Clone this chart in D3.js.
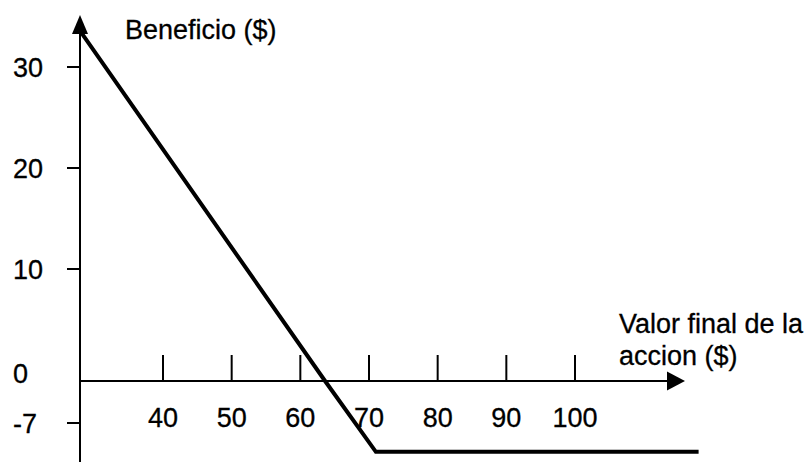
<!DOCTYPE html>
<html lang="es">
<head>
    <meta charset="UTF-8" />
    <title>Beneficio de una opcion de venta</title>
    <script src="https://d3js.org/d3.v7.min.js"></script>
    <style>
        html, body { margin: 0; padding: 0; background: #fff; }
        svg text {
            font-family: "Liberation Sans", Arial, sans-serif;
            font-size: 27px;
            fill: #000;
            stroke: #000;
            stroke-width: 0.3px;
        }
    </style>
</head>
<body>
    <div id="viz"></div>
    <script>
        // --- Data ---
        const xTicks = [40, 50, 60, 70, 80, 90, 100];
        const yTicks = [30, 20, 10, 0, -7];
        // payoff curve (precio final, beneficio)
        const payoffX = [28.1, 63.6, 71, 118];
        const payoffY = [33.4, 0, -11.8, -11.8];

        const width = 812, height = 462;
        const originX = 80;      // vertical axis position
        const xAxisEnd = 685;    // arrow tip of horizontal axis
        const yAxisTop = 15;     // arrow tip of vertical axis

        const svg = d3.select("#viz").append("svg")
            .attr("width", width)
            .attr("height", height);

        const x = d3.scaleLinear().domain([40, 100]).range([163, 575]);
        // the figure is hand drawn, so the vertical scale is piecewise
        const y = d3.scaleLinear()
            .domain([-7, 0, 10, 20, 30])
            .range([423, 381, 269, 168, 67]);

        const axes = svg.append("g").attr("stroke", "#000").attr("stroke-width", 2);

        // vertical axis + arrow
        axes.append("line")
            .attr("x1", originX).attr("x2", originX)
            .attr("y1", yAxisTop + 10).attr("y2", height);
        svg.append("path")
            .attr("d", `M${originX},${yAxisTop} L${originX - 8},${yAxisTop + 19} L${originX + 8},${yAxisTop + 19} Z`)
            .attr("fill", "#000");

        // horizontal axis + arrow
        axes.append("line")
            .attr("x1", originX).attr("x2", xAxisEnd - 10)
            .attr("y1", y(0)).attr("y2", y(0));
        svg.append("path")
            .attr("d", `M${xAxisEnd},${y(0)} L${xAxisEnd - 18},${y(0) - 9.5} L${xAxisEnd - 18},${y(0) + 9.5} Z`)
            .attr("fill", "#000");

        // x ticks (above the axis) and labels (below)
        axes.selectAll(".xt").data(xTicks).enter().append("line")
            .attr("x1", d => x(d)).attr("x2", d => x(d))
            .attr("y1", y(0) - 26).attr("y2", y(0));
        svg.selectAll(".xl").data(xTicks).enter().append("text")
            .attr("x", d => x(d))
            .attr("y", y(0) + 46)
            .attr("text-anchor", "middle")
            .text(d => d);

        // y ticks (left of the axis) and labels
        axes.selectAll(".yt").data(yTicks.filter(d => d !== 0)).enter().append("line")
            .attr("x1", originX - 13).attr("x2", originX)
            .attr("y1", d => y(d)).attr("y2", d => y(d));
        svg.selectAll(".yl").data(yTicks).enter().append("text")
            .attr("x", 13)
            .attr("y", d => y(d) + (d === 0 ? 2 : 10))
            .text(d => d);

        // payoff line
        const line = d3.line().x(d => x(d[0])).y(d => y(d[1]));
        svg.append("path")
            .datum(d3.zip(payoffX, payoffY))
            .attr("d", line)
            .attr("fill", "none")
            .attr("stroke", "#000")
            .attr("stroke-width", 4);

        // axis titles
        svg.append("text").attr("x", 125).attr("y", 39).text("Beneficio ($)");
        const xt = svg.append("text").attr("x", 619).attr("y", 333);
        xt.append("tspan").text("Valor final de la");
        xt.append("tspan").attr("x", 619).attr("y", 365).text("accion ($)");
    </script>
</body>
</html>
